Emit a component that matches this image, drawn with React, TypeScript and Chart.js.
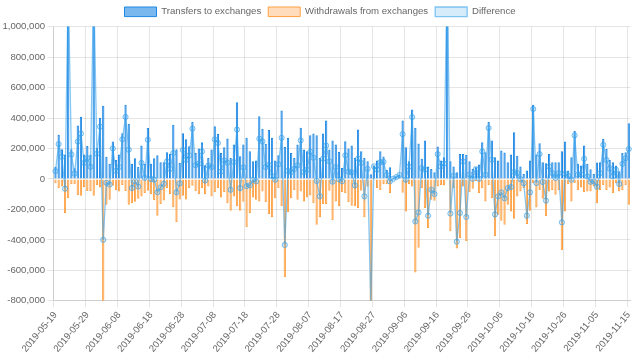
import React, { useEffect, useRef } from 'react';
import { Chart, registerables } from 'chart.js';

Chart.register(...registerables);

// Category labels: one per day starting 2019-05-19
const START_DATE = '2019-05-19';
const DAY_COUNT = 181;
const categories: string[] = (() => {
  const out: string[] = [];
  const d0 = new Date(START_DATE + 'T00:00:00Z').getTime();
  for (let i = 0; i < DAY_COUNT; i++) {
    out.push(new Date(d0 + i * 86400000).toISOString().slice(0, 10));
  }
  return out;
})();

const transfersToExchanges: number[] = [
  80000, 290000, 195000, 160000, 1400000, 195000, 70000, 350000, 408000, 160000,
  217000, 160000, 1400000, 205000, 400000, 480000, 145000, 100000, 245000, 125000,
  160000, 300000, 487000, 362000, 100000, 135000, 80000, 220000, 100000, 335000,
  100000, 135000, 155000, 110000, 110000, 175000, 165000, 355000, 195000, 105000,
  300000, 260000, 215000, 375000, 170000, 200000, 240000, 90000, 138000, 193000,
  346000, 296000, 171000, 208000, 265000, 138000, 226000, 504000, 149000, 226000,
  270000, 182000, 116000, 121000, 412000, 329000, 230000, 322000, 270000, 121000,
  156000, 450000, 210000, 270000, 171000, 138000, 226000, 336000, 193000, 182000,
  287000, 298000, 287000, 138000, 298000, 384000, 193000, 252000, 226000, 178000,
  72000, 248000, 200000, 219000, 138000, 325000, 182000, 138000, 116000, 30000,
  88000, 121000, 182000, 147000, 61000, 77000, 7000, 18000, 29000, 384000,
  208000, 116000, 456000, 336000, 232000, 132000, 252000, 81000, 66000, 44000,
  213000, 121000, 143000, 1400000, 116000, 81000, 44000, 164000, 164000, 158000,
  116000, 66000, 77000, 94000, 241000, 175000, 373000, 252000, 143000, 121000,
  186000, 173000, 110000, 160000, 307000, 153000, 81000, 33000, 55000, 121000,
  487000, 160000, 235000, 110000, 103000, 164000, 110000, 110000, 110000, 182000,
  246000, 55000, 143000, 314000, 99000, 88000, 219000, 99000, 64000, 33000,
  108000, 110000, 263000, 197000, 125000, 110000, 88000, 50000, 171000, 175000,
  366000,
];

const withdrawalsFromExchanges: number[] = [
  -29000, -61000, -50000, -224000, -126000, -35000, -35000, -105000, -110000, -55000,
  -80000, -80000, -110000, -40000, -57000, -880000, -170000, -137000, -45000, -72000,
  -82000, -40000, -80000, -170000, -160000, -150000, -130000, -115000, -93000, -78000,
  -100000, -140000, -242000, -165000, -142000, -60000, -100000, -185000, -283000, -135000,
  -110000, -135000, -60000, -45000, -80000, -100000, -60000, -100000, -50000, -115000,
  -87000, -60000, -122000, -87000, -159000, -209000, -115000, -180000, -209000, -150000,
  -317000, -224000, -122000, -137000, -148000, -83000, -152000, -230000, -252000, -126000,
  -60000, -180000, -643000, -217000, -126000, -72000, -137000, -83000, -148000, -122000,
  -109000, -159000, -300000, -252000, -165000, -165000, -78000, -270000, -148000, -180000,
  -87000, -93000, -152000, -176000, -180000, -191000, -78000, -252000, -50000, -850000,
  -5000, -60000, -72000, -35000, -35000, -93000, -6000, -6000, -3000, -90000,
  -213000, -35000, -50000, -615000, -452000, -61000, -191000, -322000, -137000, -143000,
  -50000, -39000, -43000, -7000, -343000, -60000, -456000, -387000, -50000, -408000,
  -87000, -65000, -13000, -93000, -61000, -148000, -39000, -126000, -376000, -235000,
  -274000, -300000, -170000, -213000, -261000, -115000, -83000, -61000, -296000, -209000,
  -28000, -187000, -72000, -130000, -245000, -83000, -72000, -104000, -72000, -467000,
  -213000, -35000, -148000, -28000, -72000, -57000, -87000, -83000, -83000, -50000,
  -159000, -72000, -39000, -72000, -57000, -93000, -28000, -83000, -72000, -39000,
  -170000,
];

// Net flow = transfers in + withdrawals out (withdrawals are negative)
const difference: number[] = transfersToExchanges.map((v, i) => v + withdrawalsFromExchanges[i]);

const Y_MIN = -800000;
const Y_MAX = 1000000;
const Y_STEP = 200000;
const LABEL_EVERY = 10;

const FONT = "'Liberation Sans', Arial, Helvetica, sans-serif";
const FS = 9.6;

export default function App() {
  const ref = useRef<HTMLCanvasElement | null>(null);

  useEffect(() => {
    document.body.style.margin = '0';
    if (!ref.current) return;
    Chart.defaults.font.family = FONT;
    Chart.defaults.font.size = FS;
    Chart.defaults.color = '#666';
    const chart = new Chart(ref.current, {
      type: 'bar',
      data: {
        labels: categories,
        datasets: [
          {
            type: 'bar',
            label: 'Transfers to exchanges',
            data: transfersToExchanges,
            backgroundColor: 'rgba(30,136,229,0.6)',
            borderColor: 'rgb(30,136,229)',
            borderWidth: 1,
            order: 1,
          },
          {
            type: 'bar',
            label: 'Withdrawals from exchanges',
            data: withdrawalsFromExchanges,
            backgroundColor: 'rgba(255,159,64,0.35)',
            borderColor: 'rgb(255,159,64)',
            borderWidth: 1,
            order: 1,
          },
          {
            type: 'line',
            label: 'Difference',
            data: difference,
            borderColor: 'rgba(54,162,235,0.6)',
            backgroundColor: 'rgba(54,162,235,0.2)',
            borderWidth: 1.3,
            pointRadius: 2.6,
            pointBorderWidth: 1,
            pointBackgroundColor: 'rgba(54,162,235,0.2)',
            pointBorderColor: 'rgba(54,162,235,0.65)',
            tension: 0,
            fill: false,
            order: 0,
          } as any,
        ],
      },
      options: {
        responsive: true,
        maintainAspectRatio: false,
        animation: false,
        layout: { padding: { right: 0, bottom: 4 } },
        plugins: {
          legend: {
            position: 'top',
            labels: {
              boxWidth: 32,
              boxHeight: FS,
              padding: 7,
              font: { size: FS, family: FONT },
              color: '#666',
              sort: (a: any, b: any) => a.datasetIndex - b.datasetIndex,
            },
          },
          tooltip: { enabled: false },
        },
        scales: {
          x: {
            stacked: true,
            ticks: {
              autoSkip: false,
              maxRotation: 50,
              minRotation: 50,
              padding: 2.4,
              font: { size: FS, family: FONT },
              color: '#666',
              callback: (_v: any, i: number) => (i % LABEL_EVERY === 0 ? categories[i] : ''),
            },
            grid: {
              offset: true,
              tickLength: 6.4,
              color: (ctx: any) =>
                typeof ctx.index === 'number' && ctx.index % LABEL_EVERY === 0
                  ? 'rgba(0,0,0,0.1)'
                  : 'rgba(0,0,0,0)',
            },
          },
          y: {
            stacked: true,
            min: Y_MIN,
            max: Y_MAX,
            ticks: {
              stepSize: Y_STEP,
              padding: 2.4,
              font: { size: FS, family: FONT },
              color: '#666',
              callback: (v: any) => Number(v).toLocaleString('en-US'),
            },
            grid: { tickLength: 6.4, color: 'rgba(0,0,0,0.1)' },
          },
        },
      },
    });
    return () => chart.destroy();
  }, []);

  return (
    <div style={{ width: 640, height: 361, position: 'relative' }}>
      <canvas ref={ref} />
    </div>
  );
}
